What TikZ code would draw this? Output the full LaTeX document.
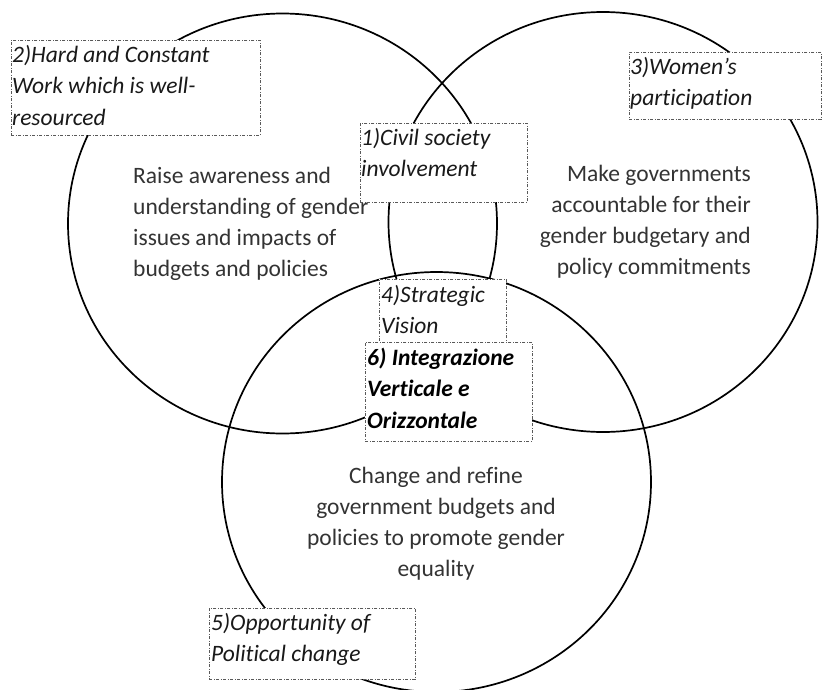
\documentclass[tikz,border=0pt]{standalone}
\usepackage{fontspec}
\usetikzlibrary{shapes.geometric}
\setmainfont{Carlito}[Ligatures=NoCommon]
\begin{document}
\begin{tikzpicture}[x=1pt,y=-1pt,
  ring/.style={draw=black, line width=1.7pt, ellipse, minimum width=429pt, minimum height=420pt, inner sep=0pt},
  tagbox/.style={draw=black!65, fill=white, line width=0.8pt, dash pattern=on 3pt off 1.5pt on 1pt off 1.5pt, inner sep=0pt, rectangle, anchor=north west},
  tagtext/.style={font=\fontsize{23.5}{31.5}\selectfont\itshape, text=black!90, align=left, inner sep=0pt, anchor=base west},
  bodytext/.style={font=\fontsize{23.5}{31}\selectfont, text=black!80, inner sep=0pt}]
\useasboundingbox (0,0) rectangle (822,689);
% circles
\node[ring] (cA) at (282.5,223.5) {};
\node[ring] (cB) at (603,222) {};
\node[ring] (cC) at (436.5,482) {};
% body texts (anchor = baseline of last line)
\node[bodytext, align=left, anchor=base west] (txA) at (133,276) {Raise awareness and\\understanding of gender\\issues and impacts of\\budgets and policies};
\node[bodytext, align=right, anchor=base east] (txB) at (751,274) {Make governments\\accountable for their\\gender budgetary and\\policy commitments};
\node[bodytext, align=center, anchor=base] (txC) at (436,576) {Change and refine\\government budgets and\\policies to promote gender\\equality};
% boxes
\node[tagbox, minimum width=249pt, minimum height=95pt] (b2) at (11,40) {};
\node[tagtext] (t2) at (12,125) {2)Hard and Constant\\Work which is well-\\resourced};
\node[tagbox, minimum width=167pt, minimum height=79pt] (b1) at (360,123) {};
\node[tagtext] (t1) at (361,176.5) {1)Civil society\\involvement};
\node[tagbox, minimum width=192pt, minimum height=67pt] (b3) at (629,52) {};
\node[tagtext] (t3) at (630,105.5) {3)Women’s\\participation};
\node[tagbox, minimum width=127pt, minimum height=65pt] (b4) at (379,279) {};
\node[tagtext] (t4) at (381,333.5) {4)Strategic\\Vision};
\node[tagbox, minimum width=167pt, minimum height=99pt] (b6) at (365,342) {};
\node[tagtext, font=\fontsize{23.5}{31.5}\selectfont\bfseries\itshape, text=black] (t6) at (367,428) {6) Integrazione\\Verticale e\\Orizzontale};
\node[tagbox, minimum width=206pt, minimum height=71pt] (b5) at (209,608) {};
\node[tagtext] (t5) at (211,661.5) {5)Opportunity of\\Political change};
\end{tikzpicture}
\end{document}
